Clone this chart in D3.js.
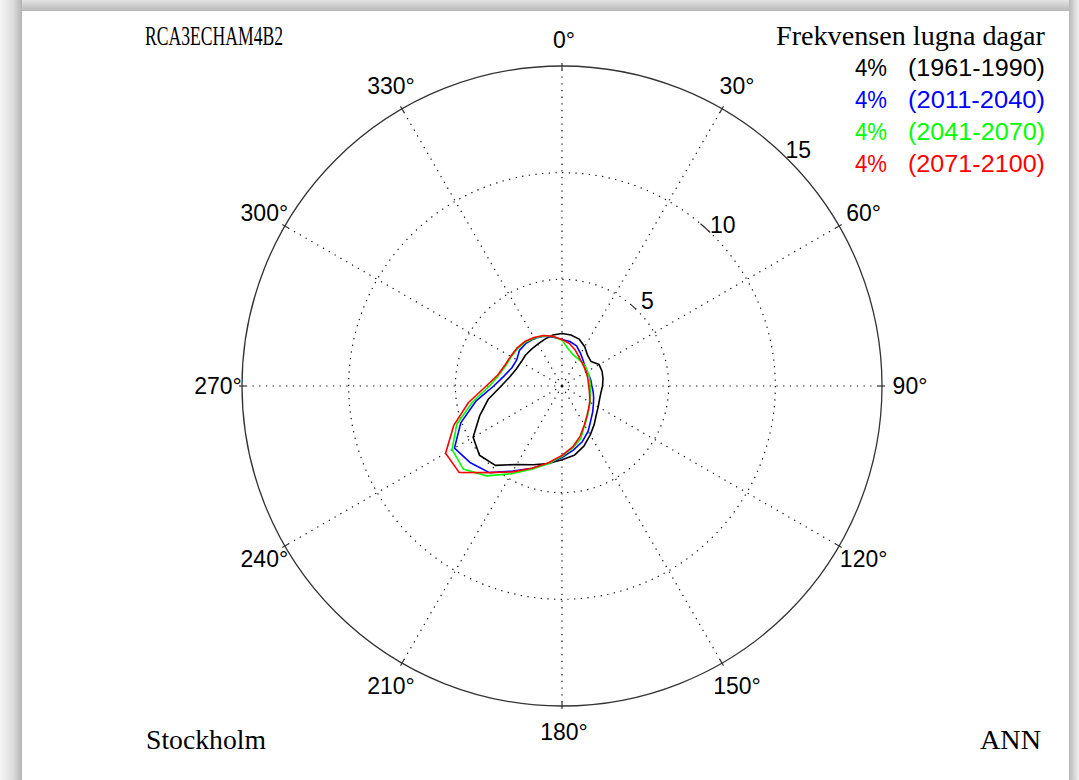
<!DOCTYPE html>
<html>
<head>
<meta charset="utf-8">
<script src="https://cdn.jsdelivr.net/npm/d3@7"></script>
<style>
    body { margin: 0; background: #fff; }
    svg { display: block; }
</style>
</head>
<body>
<div id="chart"></div>
<script>
// directions (degrees, clockwise from north), one value every 10 degrees
var directions = d3.range(0, 360, 10);

var seriesNames = ["(1961-1990)", "(2011-2040)", "(2041-2070)", "(2071-2100)"];
var seriesPct = ["4%", "4%", "4%", "4%"];

var calm1961 = [2.46, 2.43, 2.34, 2.13, 1.87, 1.78, 2.01, 2.00, 1.95, 1.90, 1.85, 1.87,
                1.96, 2.10, 2.35, 2.65, 3.00, 3.30, 3.46, 3.69, 3.93, 4.25, 4.86, 5.05,
                4.81, 4.11, 3.50, 2.85, 2.48, 2.29, 2.22, 2.24, 2.24, 2.27, 2.34, 2.43];
var calm2011 = [2.18, 2.12, 2.00, 1.75, 1.55, 1.40, 1.35, 1.36, 1.38, 1.40, 1.48, 1.58,
                1.70, 1.88, 2.10, 2.45, 2.78, 3.05, 3.35, 3.68, 4.10, 4.60, 5.30, 5.60,
                5.82, 5.05, 4.10, 3.20, 2.75, 2.50, 2.45, 2.60, 2.62, 2.58, 2.48, 2.32];
var calm2041 = [2.15, 1.75, 1.55, 1.48, 1.45, 1.43, 1.38, 1.35, 1.33, 1.32, 1.36, 1.42,
                1.52, 1.65, 1.85, 2.12, 2.60, 2.95, 3.30, 3.70, 4.15, 4.75, 5.50, 6.05,
                5.95, 5.25, 4.25, 3.40, 3.00, 2.80, 2.75, 2.72, 2.68, 2.60, 2.50, 2.35];
var calm2071 = [2.18, 2.02, 1.80, 1.58, 1.45, 1.36, 1.30, 1.27, 1.25, 1.25, 1.30, 1.38,
                1.50, 1.63, 1.82, 2.10, 2.50, 2.90, 3.25, 3.65, 4.10, 4.65, 5.30, 6.30,
                6.30, 5.40, 4.45, 3.55, 3.05, 2.85, 2.78, 2.76, 2.72, 2.63, 2.52, 2.36];

var radialTicks = [5, 10, 15];
var angleTicks = d3.range(0, 360, 30);

var seriesColors = ["#000000", "#0000ff", "#00ff00", "#ff0000"];
var allSeries = [calm1961, calm2011, calm2041, calm2071];

var width = 1079, height = 780;
var cx = 562, cy = 386, R = 320;

var svg = d3.select("#chart")
    .append("svg")
    .attr("width", width)
    .attr("height", height);

// frame shadow
var defs = svg.append("defs");
var gl = defs.append("linearGradient").attr("id", "shLeft").attr("x1", 0).attr("x2", 1).attr("y1", 0).attr("y2", 0);
gl.append("stop").attr("offset", "0%").attr("stop-color", "#f6f6f6");
gl.append("stop").attr("offset", "60%").attr("stop-color", "#dcdcdc");
gl.append("stop").attr("offset", "100%").attr("stop-color", "#b4b4b4");
var gt = defs.append("linearGradient").attr("id", "shTop").attr("x1", 0).attr("x2", 0).attr("y1", 0).attr("y2", 1);
gt.append("stop").attr("offset", "0%").attr("stop-color", "#e4e4e4");
gt.append("stop").attr("offset", "100%").attr("stop-color", "#b8b8b8");
var gr = defs.append("linearGradient").attr("id", "shRight").attr("x1", 0).attr("x2", 1).attr("y1", 0).attr("y2", 0);
gr.append("stop").attr("offset", "0%").attr("stop-color", "#b8b8b8");
gr.append("stop").attr("offset", "100%").attr("stop-color", "#f0f0f0");

svg.append("rect").attr("x", 0).attr("y", 0).attr("width", width).attr("height", 11).attr("fill", "url(#shTop)");
svg.append("rect").attr("x", 0).attr("y", 0).attr("width", 22).attr("height", height).attr("fill", "url(#shLeft)");
svg.append("rect").attr("x", 1069).attr("y", 0).attr("width", 10).attr("height", height).attr("fill", "url(#shRight)");

var rScale = d3.scaleLinear()
    .domain([0, 15])
    .range([0, R]);

var g = svg.append("g")
    .attr("transform", "translate(" + cx + "," + cy + ")");

function toRad(deg) { return deg * Math.PI / 180; }

// dotted spokes
g.selectAll(".spoke")
    .data(angleTicks)
    .enter()
    .append("line")
    .attr("class", "spoke")
    .attr("x1", 0).attr("y1", 0)
    .attr("x2", function (d) { return R * Math.sin(toRad(d)); })
    .attr("y2", function (d) { return -R * Math.cos(toRad(d)); })
    .attr("stroke", "#111")
    .attr("stroke-width", 1.2)
    .attr("stroke-dasharray", "1.3,5.4");

// dotted rings
g.selectAll(".ring")
    .data(radialTicks.slice(0, -1))
    .enter()
    .append("circle")
    .attr("class", "ring")
    .attr("r", function (d) { return rScale(d); })
    .attr("fill", "none")
    .attr("stroke", "#111")
    .attr("stroke-width", 1.2)
    .attr("stroke-dasharray", "1.3,5.4");

// outer circle
g.append("circle")
    .attr("r", rScale(15))
    .attr("fill", "none")
    .attr("stroke", "#333")
    .attr("stroke-width", 1.3);

// small ticks on outer circle
g.selectAll(".otick")
    .data(angleTicks)
    .enter()
    .append("line")
    .attr("x1", function (d) { return (R - 4) * Math.sin(toRad(d)); })
    .attr("y1", function (d) { return -(R - 4) * Math.cos(toRad(d)); })
    .attr("x2", function (d) { return (R + 3) * Math.sin(toRad(d)); })
    .attr("y2", function (d) { return -(R + 3) * Math.cos(toRad(d)); })
    .attr("stroke", "#333")
    .attr("stroke-width", 1.2);

// short solid arcs where radial labels sit
var tickArc = d3.arc();
g.selectAll(".rarc")
    .data(radialTicks.slice(0, -1))
    .enter()
    .append("path")
    .attr("d", function (d) {
        return tickArc({ innerRadius: rScale(d), outerRadius: rScale(d), startAngle: toRad(40.5), endAngle: toRad(44) });
    })
    .attr("fill", "none")
    .attr("stroke", "#333")
    .attr("stroke-width", 1.2);

// radial labels
g.selectAll(".rlabel")
    .data(radialTicks)
    .enter()
    .append("text")
    .attr("x", function (d) { return (rScale(d) + 14) * Math.sin(toRad(45)); })
    .attr("y", function (d) { return -(rScale(d) + 14) * Math.cos(toRad(45)); })
    .attr("text-anchor", "middle")
    .attr("dominant-baseline", "central")
    .attr("font-family", "Liberation Sans, Arial, sans-serif")
    .attr("font-size", "23px")
    .attr("fill", "#000")
    .text(function (d) { return d; });

// angle labels
g.selectAll(".alabel")
    .data(angleTicks)
    .enter()
    .append("text")
    .attr("x", function (d) { return 346 * Math.sin(toRad(d)) + 2; })
    .attr("y", function (d) { return -346 * Math.cos(toRad(d)); })
    .attr("text-anchor", "middle")
    .attr("dominant-baseline", "central")
    .attr("font-family", "Liberation Sans, Arial, sans-serif")
    .attr("font-size", "23px")
    .attr("fill", "#000")
    .text(function (d) { return d + "\u00b0"; });

// the four frequency curves
var radial = d3.lineRadial()
    .angle(function (d, i) { return toRad(directions[i]); })
    .radius(function (d) { return rScale(d); })
    .curve(d3.curveLinearClosed);

g.selectAll(".curve")
    .data(allSeries)
    .enter()
    .append("path")
    .attr("class", "curve")
    .attr("d", radial)
    .attr("fill", "none")
    .attr("stroke", function (d, i) { return seriesColors[i]; })
    .attr("stroke-width", 1.6)
    .attr("stroke-linejoin", "round");

// titles
function serifText(x, y, txt, anchor, len) {
    svg.append("text")
        .attr("x", x).attr("y", y)
        .attr("text-anchor", anchor)
        .attr("font-family", "Liberation Serif, Times New Roman, serif")
        .attr("font-size", "27px")
        .attr("fill", "#000")
        .attr("textLength", len)
        .attr("lengthAdjust", "spacingAndGlyphs")
        .text(txt);
}
serifText(145, 45, "RCA3ECHAM4B2", "start", 138);
serifText(1045, 45, "Frekvensen lugna dagar", "end", 269);
serifText(146, 749, "Stockholm", "start", 120);
serifText(1041, 749, "ANN", "end", 61);

// legend
var legend = svg.selectAll(".leg")
    .data(seriesNames)
    .enter()
    .append("g")
    .attr("transform", function (d, i) { return "translate(0," + (76 + i * 32) + ")"; });

legend.append("text")
    .attr("x", 855)
    .attr("font-family", "Liberation Sans, Arial, sans-serif")
    .attr("font-size", "23px")
    .attr("fill", function (d, i) { return seriesColors[i]; })
    .attr("textLength", 32)
    .attr("lengthAdjust", "spacingAndGlyphs")
    .text(function (d, i) { return seriesPct[i]; });

legend.append("text")
    .attr("x", 1045)
    .attr("text-anchor", "end")
    .attr("font-family", "Liberation Sans, Arial, sans-serif")
    .attr("font-size", "23px")
    .attr("fill", function (d, i) { return seriesColors[i]; })
    .attr("textLength", 137)
    .attr("lengthAdjust", "spacingAndGlyphs")
    .text(function (d) { return d; });
</script>
</body>
</html>
